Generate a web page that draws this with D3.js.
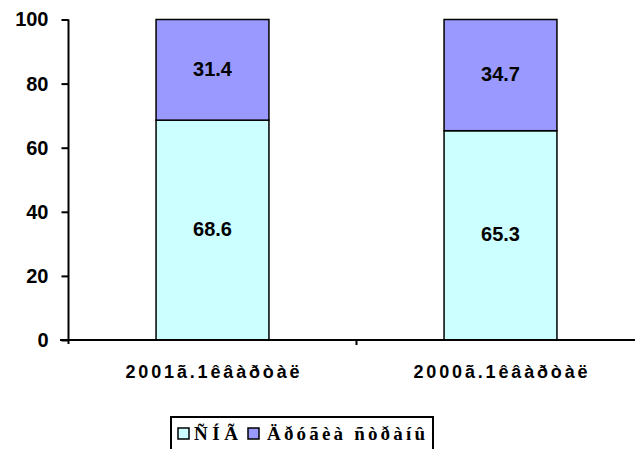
<!DOCTYPE html>
<html>
<head>
<meta charset="utf-8">
<script src="https://cdn.jsdelivr.net/npm/d3@7"></script>
<style>
  body { margin: 0; background: #fff; }
  svg { display: block; }
</style>
</head>
<body>
<svg id="chart" width="635" height="449"></svg>
<script>
// data
let categories = ['2001ã.1êâàðòàë', '2000ã.1êâàðòàë'];
let seriesNames = ['ÑÍÃ', 'Äðóãèà ñòðàíû'];
let cisValues = [68.6, 65.3];
let otherValues = [31.4, 34.7];
let yTicks = [0, 20, 40, 60, 80, 100];

let colors = ['#CCFFFF', '#9999FF'];

let svg = d3.select('#chart');

// scales
let xScale = d3.scaleBand()
  .domain(categories)
  .range([68.5, 644.5])
  .paddingInner(0.608)
  .paddingOuter(0.304);

let yScale = d3.scaleLinear()
  .domain([0, 100])
  .range([340, 19.5]);

// stacked rows
let rows = categories.map(function (c, i) {
  return { cat: c, cis: cisValues[i], other: otherValues[i] };
});
let stack = d3.stack().keys(['cis', 'other']);
let layers = stack(rows);

let layerG = svg.append('g')
  .selectAll('g')
  .data(layers)
  .enter().append('g')
    .attr('fill', function (d, i) { return colors[i]; });

layerG.selectAll('rect')
  .data(function (d) { return d; })
  .enter().append('rect')
    .attr('x', function (d) { return xScale(d.data.cat); })
    .attr('width', xScale.bandwidth())
    .attr('y', function (d) { return yScale(d[1]); })
    .attr('height', function (d) { return yScale(d[0]) - yScale(d[1]); })
    .attr('stroke', '#000')
    .attr('stroke-width', 1.5);

// value labels
layerG.selectAll('text')
  .data(function (d) { return d; })
  .enter().append('text')
    .attr('x', function (d) { return xScale(d.data.cat) + xScale.bandwidth() / 2; })
    .attr('y', function (d) { return (yScale(d[0]) + yScale(d[1])) / 2; })
    .attr('dy', '0.3em')
    .attr('text-anchor', 'middle')
    .attr('fill', '#000')
    .style('font', 'bold 20px "Liberation Sans", Arial, sans-serif')
    .text(function (d) { return d3.format('.1f')(d[1] - d[0]); });

// y axis
let leftAxis = d3.axisLeft(yScale)
  .tickValues(yTicks)
  .tickSize(7)
  .tickPadding(13)
  .tickFormat(d3.format('d'));

let yAxisG = svg.append('g')
  .attr('transform', 'translate(68.5,0)')
  .call(leftAxis);
yAxisG.select('.domain')
  .attr('d', 'M0,' + yScale(100) + 'V' + (yScale(0) + 4));
yAxisG.selectAll('line, path').attr('stroke', '#000').attr('stroke-width', 2);
yAxisG.selectAll('text')
  .style('font', 'bold 20px "Liberation Sans", Arial, sans-serif')
  .attr('fill', '#000');

// x axis (ticks at band boundaries)
let step = xScale.step();
let boundaries = [xScale.range()[0] + step, xScale.range()[0] + 2 * step];
svg.append('line')
  .attr('x1', 60).attr('x2', 645)
  .attr('y1', yScale(0)).attr('y2', yScale(0))
  .attr('stroke', '#000').attr('stroke-width', 2);
svg.selectAll('.xtick')
  .data(boundaries)
  .enter().append('line')
    .attr('class', 'xtick')
    .attr('x1', function (d) { return d; }).attr('x2', function (d) { return d; })
    .attr('y1', yScale(0)).attr('y2', yScale(0) + 5)
    .attr('stroke', '#000').attr('stroke-width', 2);

svg.selectAll('.xlabel')
  .data(categories)
  .enter().append('text')
    .attr('class', 'xlabel')
    .attr('x', function (d) { return xScale(d) + xScale.bandwidth() / 2; })
    .attr('y', 378)
    .attr('text-anchor', 'middle')
    .attr('textLength', 174)
    .attr('lengthAdjust', 'spacing')
    .attr('fill', '#000')
    .style('font', 'bold 18px "Liberation Sans", Arial, sans-serif')
    .text(function (d) { return d; });

// legend
let legend = svg.append('g');
legend.append('rect')
  .attr('x', 171).attr('y', 417)
  .attr('width', 262).attr('height', 40)
  .attr('fill', '#fff')
  .attr('stroke', '#000')
  .attr('stroke-width', 2);

let legendItems = [
  { sx: 178, tx: 194, tw: 44 },
  { sx: 248, tx: 267, tw: 158 }
];
legend.selectAll('.sw')
  .data(seriesNames)
  .enter().append('rect')
    .attr('class', 'sw')
    .attr('x', function (d, i) { return legendItems[i].sx; })
    .attr('y', 428)
    .attr('width', 11).attr('height', 11)
    .attr('fill', function (d, i) { return colors[i]; })
    .attr('stroke', '#000')
    .attr('stroke-width', 1.5);
legend.selectAll('.lt')
  .data(seriesNames)
  .enter().append('text')
    .attr('class', 'lt')
    .attr('x', function (d, i) { return legendItems[i].tx; })
    .attr('y', 440)
    .attr('textLength', function (d, i) { return legendItems[i].tw; })
    .attr('lengthAdjust', 'spacing')
    .attr('fill', '#000')
    .style('font', 'bold 19px "Liberation Serif", "Times New Roman", serif')
    .text(function (d) { return d; });
</script>
</body>
</html>
